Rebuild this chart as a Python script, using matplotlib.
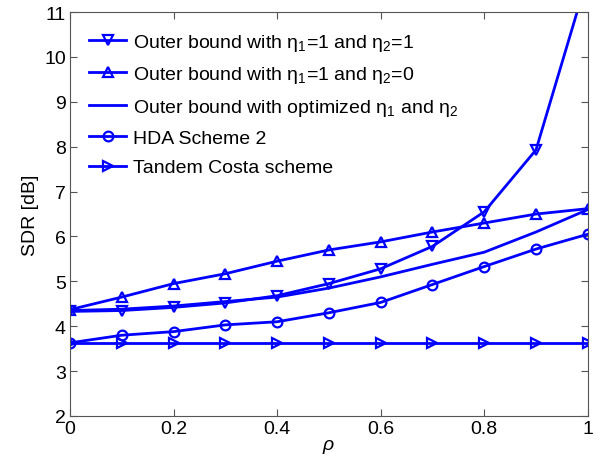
import numpy as np
import matplotlib.pyplot as plt

plt.rcParams['font.family'] = ['Liberation Sans', 'DejaVu Sans']
plt.rcParams['mathtext.fontset'] = 'custom'
plt.rcParams['mathtext.rm'] = 'Liberation Sans'
plt.rcParams['mathtext.it'] = 'Liberation Sans:italic'

rho = [0, 0.1, 0.2, 0.3, 0.4, 0.5, 0.6, 0.7, 0.8, 0.9, 1.0]
eta11 = [4.33, 4.35, 4.42, 4.52, 4.68, 4.95, 5.28, 5.78, 6.55, 7.93, 11.8]
eta10 = [4.37, 4.65, 4.95, 5.17, 5.45, 5.70, 5.88, 6.10, 6.30, 6.50, 6.62]
opt = [4.35, 4.38, 4.45, 4.55, 4.65, 4.85, 5.10, 5.38, 5.65, 6.10, 6.60]
hda = [3.63, 3.80, 3.88, 4.03, 4.10, 4.30, 4.53, 4.93, 5.33, 5.72, 6.05]
tandem = [3.63, 3.63, 3.63, 3.63, 3.63, 3.63, 3.63, 3.63, 3.63, 3.63, 3.63]

blue = '#0000ff'
fig = plt.figure(figsize=(6.01, 4.6), dpi=100)
ax = fig.add_axes([0.1165, 0.0935, 0.8615, 0.878])

kw = dict(color=blue, lw=2, mfc='none', mew=1.6, ms=7)
ax.plot(rho, eta11, marker='v', label=r'Outer bound with η$_1$=1 and η$_2$=1', **kw)
ax.plot(rho, eta10, marker='^', label=r'Outer bound with η$_1$=1 and η$_2$=0', **kw)
ax.plot(rho, opt, label=r'Outer bound with optimized η$_1$ and η$_2$', **kw)
ax.plot(rho, hda, marker='o', label='HDA Scheme 2', **kw)
ax.plot(rho, tandem, marker='>', label='Tandem Costa scheme', **kw)

ax.set_xlim(0, 1)
ax.set_ylim(2, 11)
ax.set_xticks([0, 0.2, 0.4, 0.6, 0.8, 1])
ax.set_xticklabels(['0', '0.2', '0.4', '0.6', '0.8', '1'])
ax.set_yticks(range(2, 12))
ax.tick_params(direction='in', top=True, right=True, labelsize=14, length=5,
               color='#555555', pad=3)
for s in ax.spines.values():
    s.set_color('#555555')
ax.set_xlabel(r'$\rho$', fontsize=14, labelpad=0)
ax.set_ylabel('SDR [dB]', fontsize=14, labelpad=4)

ax.legend(loc='upper left', frameon=False, fontsize=14, handlelength=1.9,
          handletextpad=0.35, labelspacing=0.6, borderaxespad=0.5, borderpad=0.5)

fig.savefig('out.png', dpi=100)
